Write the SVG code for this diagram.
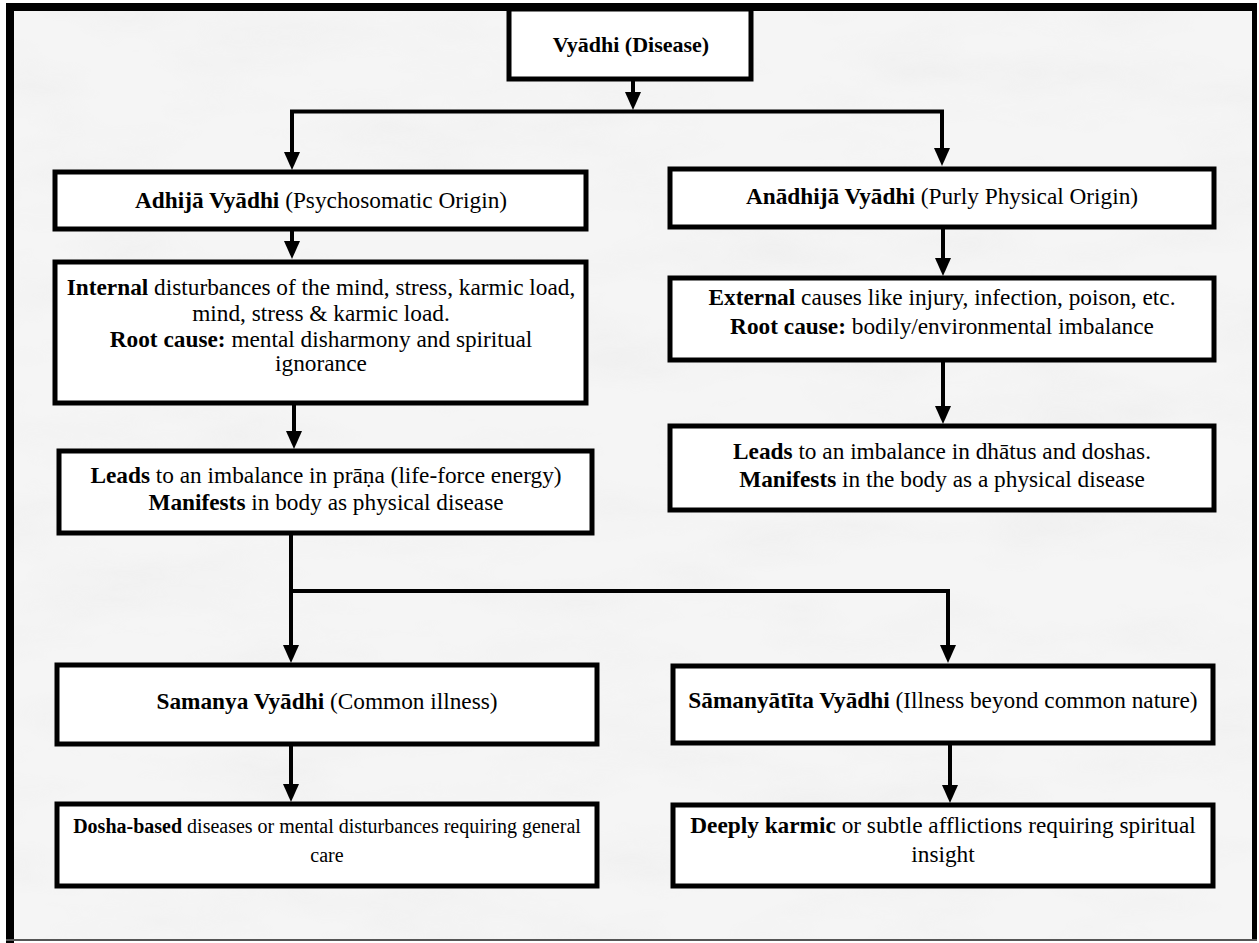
<svg xmlns="http://www.w3.org/2000/svg" width="1259" height="943" viewBox="0 0 1259 943">
  <style>
    .box { fill: #ffffff; stroke: #000000; stroke-width: 5; }
    .t { font-family: "Liberation Serif", "Times New Roman", "DejaVu Serif", serif; font-size: 23.3px; fill: #000000; text-anchor: middle; }
    .s { font-size: 20px; }
    .b { font-weight: bold; }
    .c { fill: none; stroke: #000000; stroke-width: 4; }
  </style>
  <defs>
    <marker id="ah" viewBox="0 0 18 16" markerWidth="18" markerHeight="16" refX="8" refY="8" orient="auto" markerUnits="userSpaceOnUse">
      <path d="M0,0 L18,8 L0,16 Z" fill="#000000"/>
    </marker>
    <filter id="paper" x="0" y="0" width="100%" height="100%">
      <feTurbulence type="fractalNoise" baseFrequency="0.006 0.018" numOctaves="4" seed="7" result="n"/>
      <feColorMatrix type="matrix" values="0 0 0 0 0.75  0 0 0 0 0.75  0 0 0 0 0.75  0 0 0 0.9 -0.38" in="n" result="m"/>
      <feComposite in="m" in2="SourceGraphic" operator="in"/>
    </filter>
  </defs>

  <!-- background and frame -->
  <rect x="0" y="0" width="1259" height="943" fill="#ffffff"/>
  <rect x="10" y="7" width="1244" height="933" fill="#f5f5f5"/>
  <rect x="10" y="7" width="1244" height="933" fill="#f5f5f5" filter="url(#paper)" opacity="0.5"/>
  <g id="frame">
    <rect x="6" y="3" width="8" height="940" fill="#000000"/>
    <rect x="6" y="3" width="1251" height="8" fill="#000000"/>
    <rect x="1252" y="3" width="5" height="938" fill="#000000"/>
    <rect x="6" y="939" width="1251" height="2" fill="#555555"/>
  </g>

  <!-- connectors -->
  <g id="connectors">
    <line class="c" x1="633" y1="79" x2="633" y2="100" marker-end="url(#ah)"/>
    <polyline class="c" points="292,160 292,111.5 942,111.5 942,156" stroke-linejoin="miter"/>
    <line class="c" x1="292" y1="150" x2="292" y2="160" marker-end="url(#ah)"/>
    <line class="c" x1="942" y1="150" x2="942" y2="156" marker-end="url(#ah)"/>
    <line class="c" x1="292" y1="230" x2="292" y2="249" marker-end="url(#ah)"/>
    <line class="c" x1="294" y1="403" x2="294" y2="439" marker-end="url(#ah)"/>
    <polyline class="c" points="291,533 291,591 948,591 948,653"/>
    <line class="c" x1="291" y1="591" x2="291" y2="653" marker-end="url(#ah)"/>
    <line class="c" x1="948" y1="640" x2="948" y2="653" marker-end="url(#ah)"/>
    <line class="c" x1="291" y1="744" x2="291" y2="792" marker-end="url(#ah)"/>
    <line class="c" x1="950" y1="743" x2="950" y2="793" marker-end="url(#ah)"/>
    <line class="c" x1="943" y1="227" x2="943" y2="266" marker-end="url(#ah)"/>
    <line class="c" x1="943" y1="360" x2="943" y2="414" marker-end="url(#ah)"/>
  </g>

  <g id="vyadhi">
    <rect class="box" x="509" y="9" width="242" height="70"/>
    <text class="t b" x="631" y="52" style="font-size:22px">Vyādhi (Disease)</text>
  </g>

  <g id="adhija">
    <rect class="box" x="55" y="172" width="531" height="57"/>
    <text class="t" x="321" y="208"><tspan class="b">Adhijā Vyādhi</tspan> (Psychosomatic Origin)</text>
  </g>

  <g id="internal">
    <rect class="box" x="55" y="262" width="531" height="141"/>
    <text class="t" x="321" y="295"><tspan class="b">Internal</tspan> disturbances of the mind, stress, karmic load,</text>
    <text class="t" x="321" y="321">mind, stress &amp; karmic load.</text>
    <text class="t" x="321" y="347"><tspan class="b">Root cause:</tspan> mental disharmony and spiritual</text>
    <text class="t" x="321" y="371">ignorance</text>
  </g>

  <g id="leads-left">
    <rect class="box" x="59" y="451" width="533" height="82"/>
    <text class="t" x="326" y="483"><tspan class="b">Leads</tspan> to an imbalance in prāṇa (life-force energy)</text>
    <text class="t" x="326" y="510"><tspan class="b">Manifests</tspan> in body as physical disease</text>
  </g>

  <g id="anadhija">
    <rect class="box" x="670" y="169" width="544" height="58"/>
    <text class="t" x="942" y="204"><tspan class="b">Anādhijā Vyādhi</tspan> (Purly Physical Origin)</text>
  </g>

  <g id="external">
    <rect class="box" x="670" y="278" width="544" height="82"/>
    <text class="t" x="942" y="305"><tspan class="b">External</tspan> causes like injury, infection, poison, etc.</text>
    <text class="t" x="942" y="334"><tspan class="b">Root cause:</tspan> bodily/environmental imbalance</text>
  </g>

  <g id="leads-right">
    <rect class="box" x="670" y="426" width="544" height="84"/>
    <text class="t" x="942" y="459"><tspan class="b">Leads</tspan> to an imbalance in dhātus and doshas.</text>
    <text class="t" x="942" y="487"><tspan class="b">Manifests</tspan> in the body as a physical disease</text>
  </g>

  <g id="samanya">
    <rect class="box" x="57" y="665" width="540" height="79"/>
    <text class="t" x="327" y="709"><tspan class="b">Samanya Vyādhi</tspan> (Common illness)</text>
  </g>

  <g id="samanyatita">
    <rect class="box" x="673" y="666" width="540" height="77"/>
    <text class="t" x="943" y="708"><tspan class="b">Sāmanyātīta Vyādhi</tspan> (Illness beyond common nature)</text>
  </g>

  <g id="dosha">
    <rect class="box" x="57" y="804" width="540" height="82"/>
    <text class="t s" x="327" y="833"><tspan class="b">Dosha-based</tspan> diseases or mental disturbances requiring general</text>
    <text class="t s" x="327" y="862">care</text>
  </g>

  <g id="deeply">
    <rect class="box" x="673" y="805" width="540" height="81"/>
    <text class="t" x="943" y="833"><tspan class="b">Deeply karmic</tspan> or subtle afflictions requiring spiritual</text>
    <text class="t" x="943" y="862">insight</text>
  </g>
</svg>
